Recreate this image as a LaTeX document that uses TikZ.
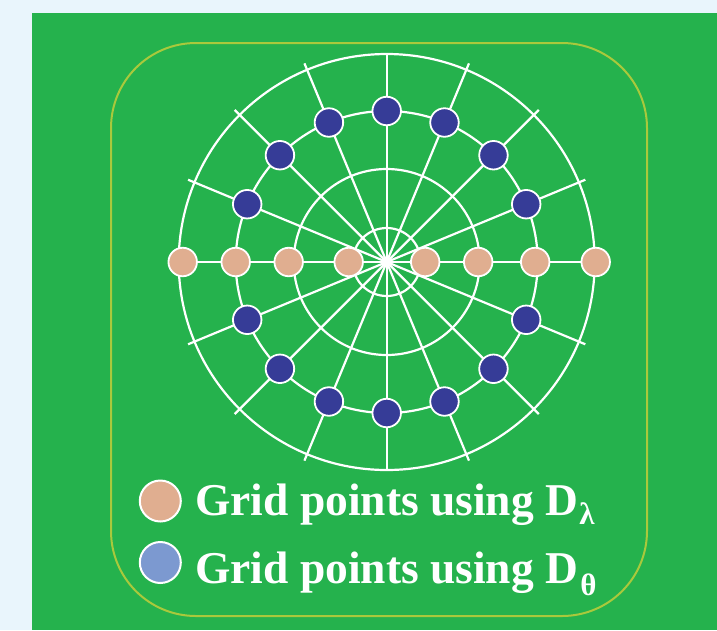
\documentclass[tikz,border=0pt]{standalone}
\usepackage{fontspec}
\setmainfont{Liberation Serif}
\usetikzlibrary{calc}
\definecolor{bgblue}{HTML}{E9F5FC}
\definecolor{bggreen}{HTML}{25B24D}
\definecolor{framey}{HTML}{A9C93C}
\definecolor{dotor}{HTML}{E0AE90}
\definecolor{dotbl}{HTML}{363C97}
\definecolor{legbl}{HTML}{7C99D0}
\begin{document}
\begin{tikzpicture}[x=1pt,y=-1pt,
  gridline/.style={draw=white,line width=2.2pt},
  dotbase/.style={circle,draw=white,line width=1.8pt,minimum size=28.5pt,inner sep=0pt},
  odot/.style={dotbase,fill=dotor},
  bdot/.style={dotbase,fill=dotbl},
  legdot/.style={circle,draw=white,line width=2pt,minimum size=41pt,inner sep=0pt},
  legtext/.style={text=white,anchor=base west,inner sep=0pt,font=\fontsize{45.5}{45.5}\selectfont\bfseries}]
\useasboundingbox (0,0) rectangle (717,630);
\fill[bgblue] (0,0) rectangle (717,630);
\fill[bggreen] (32,12.5) rectangle (717,630);
\draw[framey,line width=2pt,rounded corners=85pt] (111,43) rectangle (647,616);
\coordinate (C) at (386.7,262);
% rings
\foreach \r in {34,93,151,208} \draw[gridline] (C) circle[radius=\r];
% spokes
\draw[gridline] ($(C)+(0,-208)$) -- ($(C)+(0,208)$);
\foreach \a in {22.5,45,67.5,112.5,135,157.5,202.5,225,247.5,292.5,315,337.5}
  \draw[gridline] (C) -- ($(C)+(\a:215)$);
% orange points
\foreach \d [count=\i] in {-204,-151,-98,-38,38.5,91.5,148.5,209}
  \node[odot] (o\i) at ($(C)+(\d,0)$) {};
\draw[gridline] (o1) -- (o2) (o2) -- (o3) (o3) -- (o4) (o5) -- (o6) (o6) -- (o7) (o7) -- (o8);
\draw[gridline] (o4) -- (C) -- (o5);
% blue points
\foreach \a [count=\i] in {22.5,45,67.5,90,112.5,135,157.5,202.5,225,247.5,270,292.5,315,337.5}
  \node[bdot] (b\i) at ($(C)+(\a:151)$) {};
% legend
\node[legdot,fill=dotor] (l1) at (160.3,501) {};
\node[legdot,fill=legbl] (l2) at (160.3,562.5) {};
\node[legtext] (t1) at (195,515.5) {Grid points using D\kern1pt\raisebox{-9pt}{\fontsize{31}{31}\selectfont λ}};
\node[legtext] (t2) at (195,583) {Grid points using D\kern2pt\raisebox{-12pt}{\fontsize{31}{31}\selectfont θ}};
\end{tikzpicture}
\end{document}
